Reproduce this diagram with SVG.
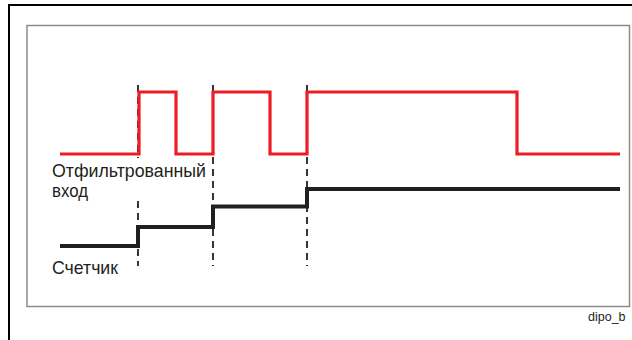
<svg xmlns="http://www.w3.org/2000/svg" width="632" height="340" viewBox="0 0 632 340">
  <style>
    .frame { fill: none; stroke: #000000; stroke-width: 2; }
    .plot { fill: #ffffff; stroke: #8c8c8c; stroke-width: 1.5; }
    .input { fill: none; stroke: #ed1c24; stroke-width: 3.2; stroke-linejoin: miter; }
    .count { fill: none; stroke: #231f20; stroke-width: 4; stroke-linejoin: miter; }
    .edge { stroke: #231f20; stroke-width: 1.8; stroke-dasharray: 7 5; }
    .label { font-family: "Liberation Sans", Arial, sans-serif; font-size: 19px; fill: #231f20; }
    .tag { font-family: "Liberation Sans", Arial, sans-serif; font-size: 12.5px; fill: #231f20; }
  </style>
  <rect width="632" height="340" fill="#ffffff"/>

  <!-- outer frame (right and bottom edges run past the canvas) -->
  <rect class="frame" x="9" y="5" width="640" height="350"/>

  <!-- plot area -->
  <rect class="plot" x="27" y="25.5" width="602.5" height="281"/>

  <!-- clock-edge markers -->
  <g id="edges">
    <line class="edge" x1="138" y1="85" x2="138" y2="158"/>
    <line class="edge" x1="138" y1="201" x2="138" y2="266"/>
    <line class="edge" x1="213" y1="85" x2="213" y2="266"/>
    <line class="edge" x1="307" y1="85" x2="307" y2="266"/>
  </g>

  <!-- filtered input signal -->
  <g id="filtered-input">
    <polyline class="input" points="60,154 139,154 139,92 176,92 176,154 213,154 213,92 270,92 270,154 307,154 307,92 517,92 517,154 620,154"/>
    <text class="label" x="52" y="177" textLength="154" lengthAdjust="spacingAndGlyphs">Отфильтрованный</text>
    <text class="label" x="52" y="197" textLength="36" lengthAdjust="spacingAndGlyphs">вход</text>
  </g>

  <!-- counter value -->
  <g id="counter">
    <polyline class="count" points="60,246 138,246 138,227 213,227 213,206.5 307,206.5 307,189 620,189"/>
    <text class="label" x="52" y="274" textLength="66" lengthAdjust="spacingAndGlyphs">Счетчик</text>
  </g>

  <text class="tag" x="588" y="321">dipo_b</text>
</svg>
